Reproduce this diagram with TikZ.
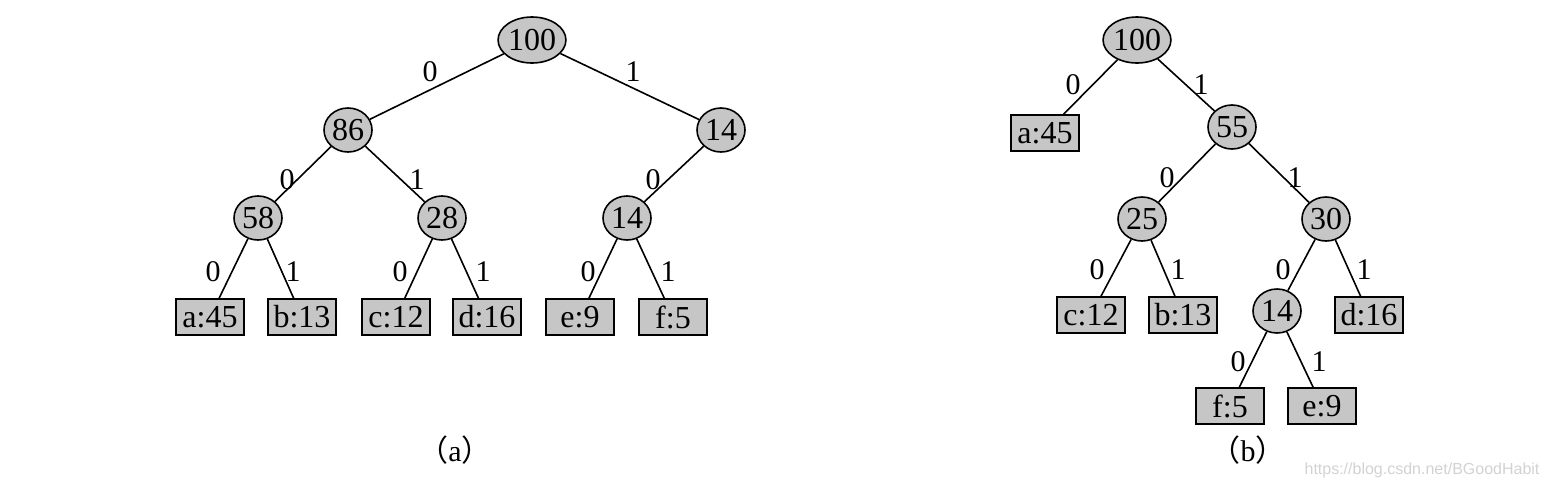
\documentclass[tikz,border=0pt]{standalone}
\usepackage{fontspec}
\setmainfont{Liberation Serif}
\newfontfamily\wmfont{Liberation Sans}
\newfontfamily\cjk{Noto Sans CJK SC}
\usetikzlibrary{shapes.geometric}
\begin{document}
\begin{tikzpicture}[x=0.5pt,y=-0.5pt,
  inner/.style={ellipse,draw=black,line width=0.8pt,fill=gray!45,minimum width=24pt,minimum height=22pt,inner sep=0pt,font=\fontsize{16}{16}\selectfont},
  root/.style={inner,minimum width=30pt,minimum height=23pt},
  leaf/.style={rectangle,draw=black,line width=0.8pt,fill=gray!45,minimum width=34pt,minimum height=18pt,inner sep=0pt,font=\fontsize{16}{16}\selectfont},
  lbl/.style={inner sep=0pt,font=\fontsize{15}{15}\selectfont},
  captext/.style={inner sep=0pt,font=\fontsize{15}{15}\selectfont},
  edge/.style={line width=0.8pt}]
\useasboundingbox (0,0) rectangle (1548,488);
% ---- (a) ----
\node[root] (a100) at (532,40) {100};
\node[inner] (a86) at (348,130) {86};
\node[inner] (a14) at (721,130) {14};
\node[inner] (a58) at (258,218) {58};
\node[inner] (a28) at (442,218) {28};
\node[inner] (a14b) at (627,218) {14};
\node[leaf] (aa) at (210,317) {a:45};
\node[leaf] (ab) at (302,317) {b:13};
\node[leaf] (ac) at (396,317) {c:12};
\node[leaf] (ad) at (487,317) {d:16};
\node[leaf] (ae) at (580,317) {e:9};
\node[leaf] (af) at (673,317) {f:5};
\draw[edge] (a100) -- (a86);
\draw[edge] (a100) -- (a14);
\draw[edge] (a86) -- (a58);
\draw[edge] (a86) -- (a28);
\draw[edge] (a14) -- (a14b);
\draw[edge] (a58) -- (aa);
\draw[edge] (a58) -- (ab);
\draw[edge] (a28) -- (ac);
\draw[edge] (a28) -- (ad);
\draw[edge] (a14b) -- (ae);
\draw[edge] (a14b) -- (af);
\node[lbl] (la1) at (430,72) {0};
\node[lbl] (la2) at (633,72) {1};
\node[lbl] (la3) at (287,180) {0};
\node[lbl] (la4) at (417,180) {1};
\node[lbl] (la5) at (653,180) {0};
\node[lbl] (la6) at (213,272) {0};
\node[lbl] (la7) at (293,272) {1};
\node[lbl] (la8) at (400,272) {0};
\node[lbl] (la9) at (483,272) {1};
\node[lbl] (la10) at (588,272) {0};
\node[lbl] (la11) at (668,272) {1};
\node[captext] (capa) at (455,450) {{\cjk （}a{\cjk ）}};
% ---- (b) ----
\node[root] (b100) at (1137,40) {100};
\node[leaf] (ba) at (1045,133) {a:45};
\node[inner] (b55) at (1232,127) {55};
\node[inner] (b25) at (1142,219) {25};
\node[inner] (b30) at (1326,219) {30};
\node[leaf] (bc) at (1091,315) {c:12};
\node[leaf] (bb) at (1183,315) {b:13};
\node[inner] (b14) at (1277,311) {14};
\node[leaf] (bd) at (1369,315) {d:16};
\node[leaf] (bf) at (1230,406) {f:5};
\node[leaf] (be) at (1322,406) {e:9};
\draw[edge] (b100) -- (ba);
\draw[edge] (b100) -- (b55);
\draw[edge] (b55) -- (b25);
\draw[edge] (b55) -- (b30);
\draw[edge] (b25) -- (bc);
\draw[edge] (b25) -- (bb);
\draw[edge] (b30) -- (b14);
\draw[edge] (b30) -- (bd);
\draw[edge] (b14) -- (bf);
\draw[edge] (b14) -- (be);
\node[lbl] (lb1) at (1073,85) {0};
\node[lbl] (lb2) at (1201,85) {1};
\node[lbl] (lb3) at (1167,178) {0};
\node[lbl] (lb4) at (1295,178) {1};
\node[lbl] (lb5) at (1097,270) {0};
\node[lbl] (lb6) at (1178,270) {1};
\node[lbl] (lb7) at (1283,270) {0};
\node[lbl] (lb8) at (1364,270) {1};
\node[lbl] (lb9) at (1238,362) {0};
\node[lbl] (lb10) at (1319,362) {1};
\node[captext] (capb) at (1248,450) {{\cjk （}b{\cjk ）}};
\node[inner sep=0pt,text=gray!35,font=\wmfont\fontsize{8}{8}\selectfont] (wm) at (1422,470) {https://blog.csdn.net/BGoodHabit};
\end{tikzpicture}
\end{document}
